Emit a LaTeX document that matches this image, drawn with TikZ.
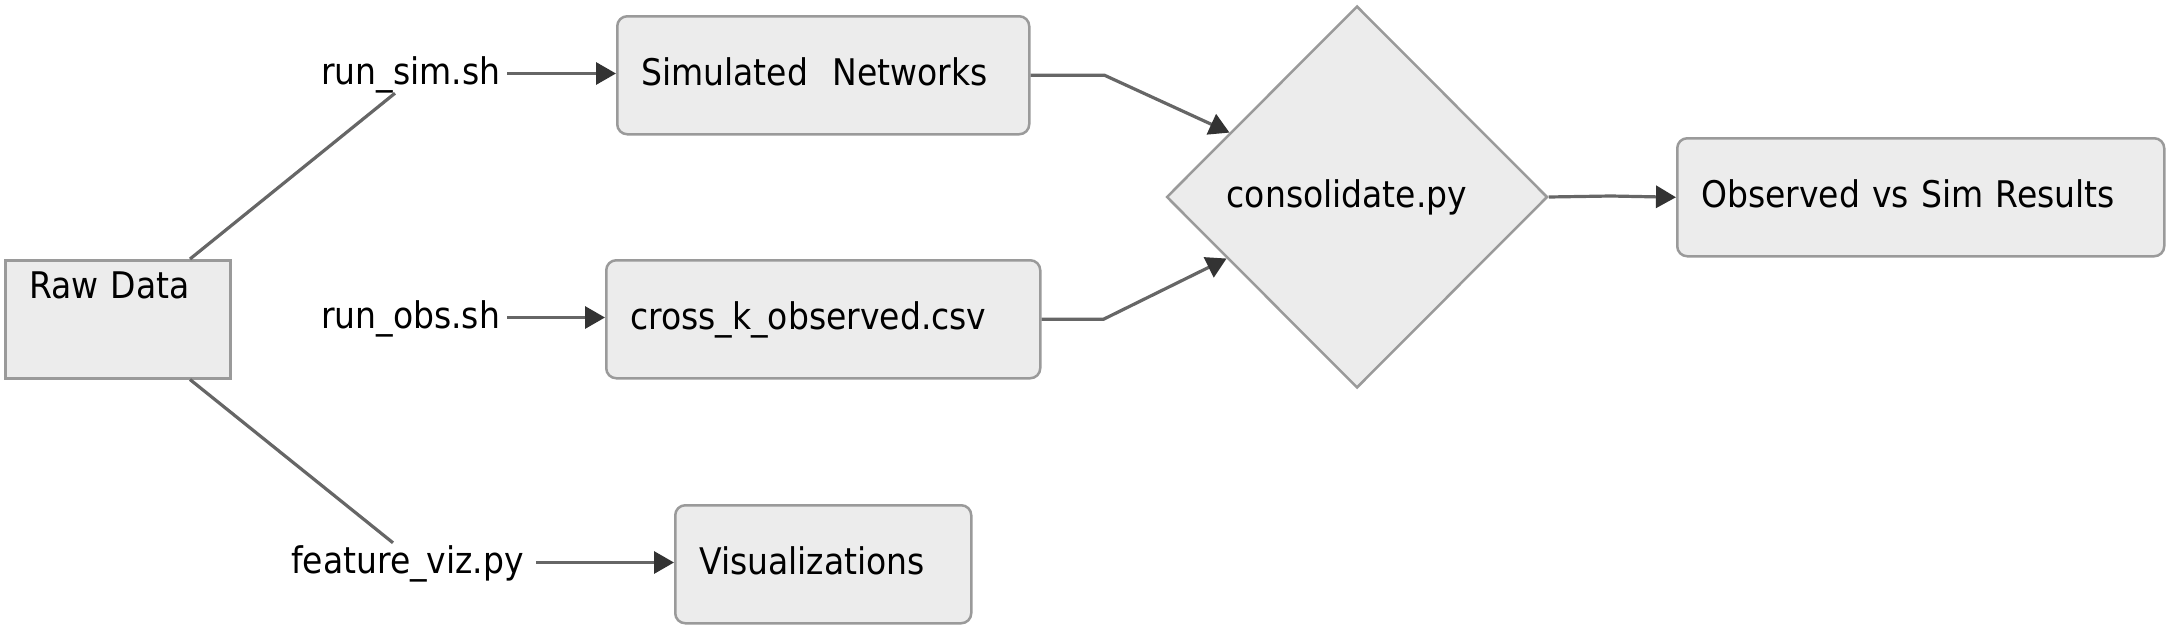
\documentclass[tikz,border=0pt]{standalone}
\usepackage{fontspec}
\setmainfont{DejaVu Sans Condensed}
\usetikzlibrary{arrows.meta,shapes.geometric,calc}
\definecolor{boxfill}{HTML}{ECECEC}
\definecolor{boxdraw}{HTML}{9A9A9A}
\definecolor{linec}{HTML}{666666}
\definecolor{arrowc}{HTML}{333333}
\newcommand\fsz{\fontsize{36.7pt}{44pt}\selectfont}
\begin{document}
\begin{tikzpicture}[x=1pt,y=-1pt,
  box/.style={draw=boxdraw, fill=boxfill, line width=2.5pt, rounded corners=10pt,
    inner xsep=24pt, inner ysep=0pt, align=left, text height=69pt, text depth=49pt,
    anchor=north west, font=\fsz},
  lbl/.style={inner sep=0pt, anchor=base west, text height=30pt, text depth=9pt, font=\fsz},
  conn/.style={draw=linec, line width=3.2pt},
  arr/.style={conn, -{Triangle[length=20pt,width=22pt,color=arrowc]}}]
\useasboundingbox (0,0) rectangle (2172,627);
% boxes
\node[box, rounded corners=0pt, text width=177pt, text height=38pt, text depth=80pt] (raw) at (4,259) {Raw Data};
\node[box, text width=364pt] (simnet) at (616,15) {Simulated\ \ Networks};
\node[box, text width=386pt] (crossk) at (605,259) {cross\_k\_observed.csv};
\node[box, text width=248pt] (viz) at (674,504) {Visualizations};
\node[box, text width=439pt] (obs) at (1676,137) {Observed vs Sim Results};
\node[diamond, draw=boxdraw, fill=boxfill, line width=2.5pt, minimum width=381pt,
  minimum height=382pt, inner sep=0pt, font=\fsz] (cons) at (1357,197) {\hspace*{-20pt}consolidate.py};
% labels
\node[lbl] (simlbl) at (321,84) {run\_sim.sh};
\node[lbl] (obslbl) at (321,328) {run\_obs.sh};
\node[lbl] (vizlbl) at (291,573) {feature\_viz.py};
% connectors
\draw[conn] ($(raw.north west)+(186,0)$) -- ($(simlbl.south west)+(74,0)$);
\draw[conn] ($(raw.south west)+(186,0)$) -- ($(vizlbl.north west)+(102,0)$);
\draw[arr] ([xshift=7pt]simlbl.east) -- (simlbl.east -| simnet.west);
\draw[arr] ([xshift=7pt]obslbl.east) -- (obslbl.east -| crossk.west);
\draw[arr] ([xshift=12pt]vizlbl.east) -- (vizlbl.east -| viz.west);
\draw[arr] (simnet.east) -- ++(74,0) -- ($(cons.north)!0.665!(cons.west)$);
\draw[arr] (crossk.east) -- ++(62,0) -- ($(cons.south)!0.68!(cons.west)$);
\draw[arr] (cons.east) -- ++(62,-1) -- (obs.west);
\end{tikzpicture}
\end{document}
